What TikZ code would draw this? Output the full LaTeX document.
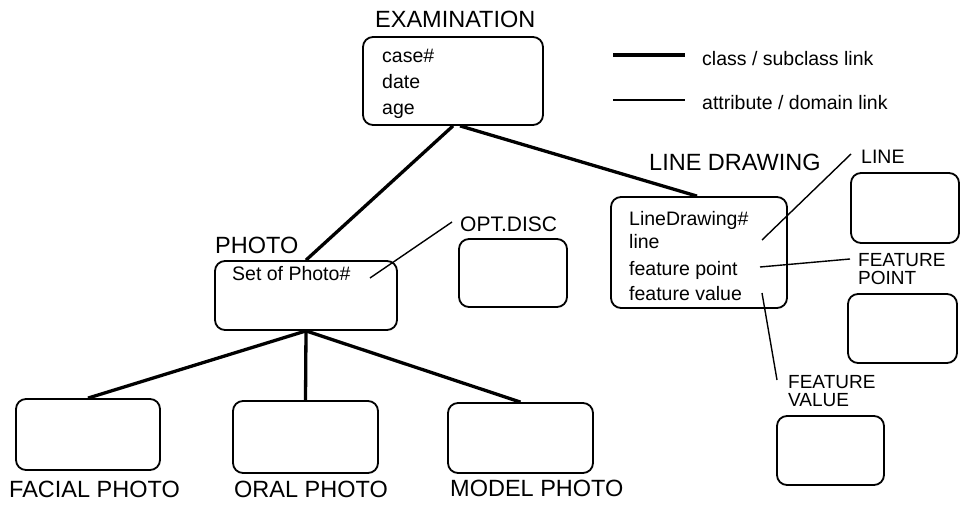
\documentclass[tikz,border=0pt]{standalone}
\usepackage{fontspec}
\setmainfont{Liberation Sans}
\begin{document}
\begin{tikzpicture}[x=1pt,y=-1pt,
  box/.style={draw, line width=1.8pt, rounded corners=10pt, inner sep=0pt},
  txt/.style={inner sep=0pt, anchor=base west, font=\fontsize{19.5}{24}\selectfont},
  lbl/.style={inner sep=0pt, anchor=west, font=\fontsize{23.5}{23.5}\selectfont},
  slbl/.style={inner sep=0pt, anchor=north west, align=left, font=\fontsize{19}{18.5}\selectfont},
  link/.style={line width=3.3pt},
  attr/.style={line width=1.4pt}]
\useasboundingbox (0,0) rectangle (960,505);

% boxes
\node[box, minimum width=180pt, minimum height=88pt] (exam) at (453,81) {};
\node[box, minimum width=182pt, minimum height=69pt] (photo) at (306,295.5) {};
\node[box, minimum width=108pt, minimum height=68pt] (opt) at (513,273) {};
\node[box, minimum width=176pt, minimum height=111pt] (ld) at (699,252.5) {};
\node[box, minimum width=108pt, minimum height=70pt] (linebox) at (905,208) {};
\node[box, minimum width=109pt, minimum height=69pt] (fpbox) at (902.5,328.5) {};
\node[box, minimum width=107pt, minimum height=69pt] (fvbox) at (830.5,450.5) {};
\node[box, minimum width=144pt, minimum height=71pt] (facial) at (88,434.5) {};
\node[box, minimum width=145pt, minimum height=72pt] (oral) at (305.5,437) {};
\node[box, minimum width=145pt, minimum height=70pt] (model) at (520.5,438) {};

% titles
\node[lbl] (examT) at (375,19.5) {EXAMINATION};
\node[lbl] (photoT) at (215,245) {PHOTO};
\node[lbl, font=\fontsize{21}{21}\selectfont] (optT) at (460,224) {OPT.DISC};
\node[lbl] (ldT) at (649,162) {LINE DRAWING};
\node[lbl, font=\fontsize{19.5}{19.5}\selectfont] (lineT) at (861,157) {LINE};
\node[slbl] (fpT) at (858,253) {FEATURE\\POINT};
\node[slbl] (fvT) at (788,375) {FEATURE\\VALUE};
\node[lbl] (facialT) at (9,489.5) {FACIAL PHOTO};
\node[lbl] (oralT) at (234,489.5) {ORAL PHOTO};
\node[lbl] (modelT) at (450,488.5) {MODEL PHOTO};

% box contents
\node[txt] (e1) at (382,63) {case\#};
\node[txt] (e2) at (382,89) {date};
\node[txt] (e3) at (382,115) {age};
\node[txt] (p1) at (232,280) {Set of Photo\#};
\node[txt] (d1) at (629,225.5) {LineDrawing\#};
\node[txt] (d2) at (629,248.5) {line};
\node[txt] (d3) at (629,275) {feature point};
\node[txt] (d4) at (629,300) {feature value};

% legend
\coordinate (lga) at (613,55);
\coordinate (lgb) at (685,55);
\coordinate (lgc) at (613,100);
\coordinate (lgd) at (685,100);
\draw[link] (lga) -- (lgb);
\draw[attr] (lgc) -- (lgd);
\node[txt, anchor=west] (lg1) at (702,59) {class / subclass link};
\node[txt, anchor=west] (lg2) at (702,103) {attribute / domain link};

% class / subclass links
\draw[link] (exam.south) -- (photo.north);
\draw[link] ([xshift=7pt]exam.south) -- ([xshift=-2pt]ld.north);
\draw[link] (photo.south) -- (facial.north);
\draw[link] (photo.south) -- (oral.north);
\draw[link] (photo.south) -- (model.north);

% attribute / domain links
\coordinate (a1) at (370,278);
\coordinate (a1e) at (452,222);
\draw[attr] (a1) -- (a1e);
\coordinate (a2) at (762,240);
\coordinate (a2e) at (851,154);
\draw[attr] (a2) -- (a2e);
\coordinate (a3) at (760,267);
\coordinate (a3e) at (850,259);
\draw[attr] (a3) -- (a3e);
\coordinate (a4) at (762,293);
\coordinate (a4e) at (777,380);
\draw[attr] (a4) -- (a4e);
\end{tikzpicture}
\end{document}
